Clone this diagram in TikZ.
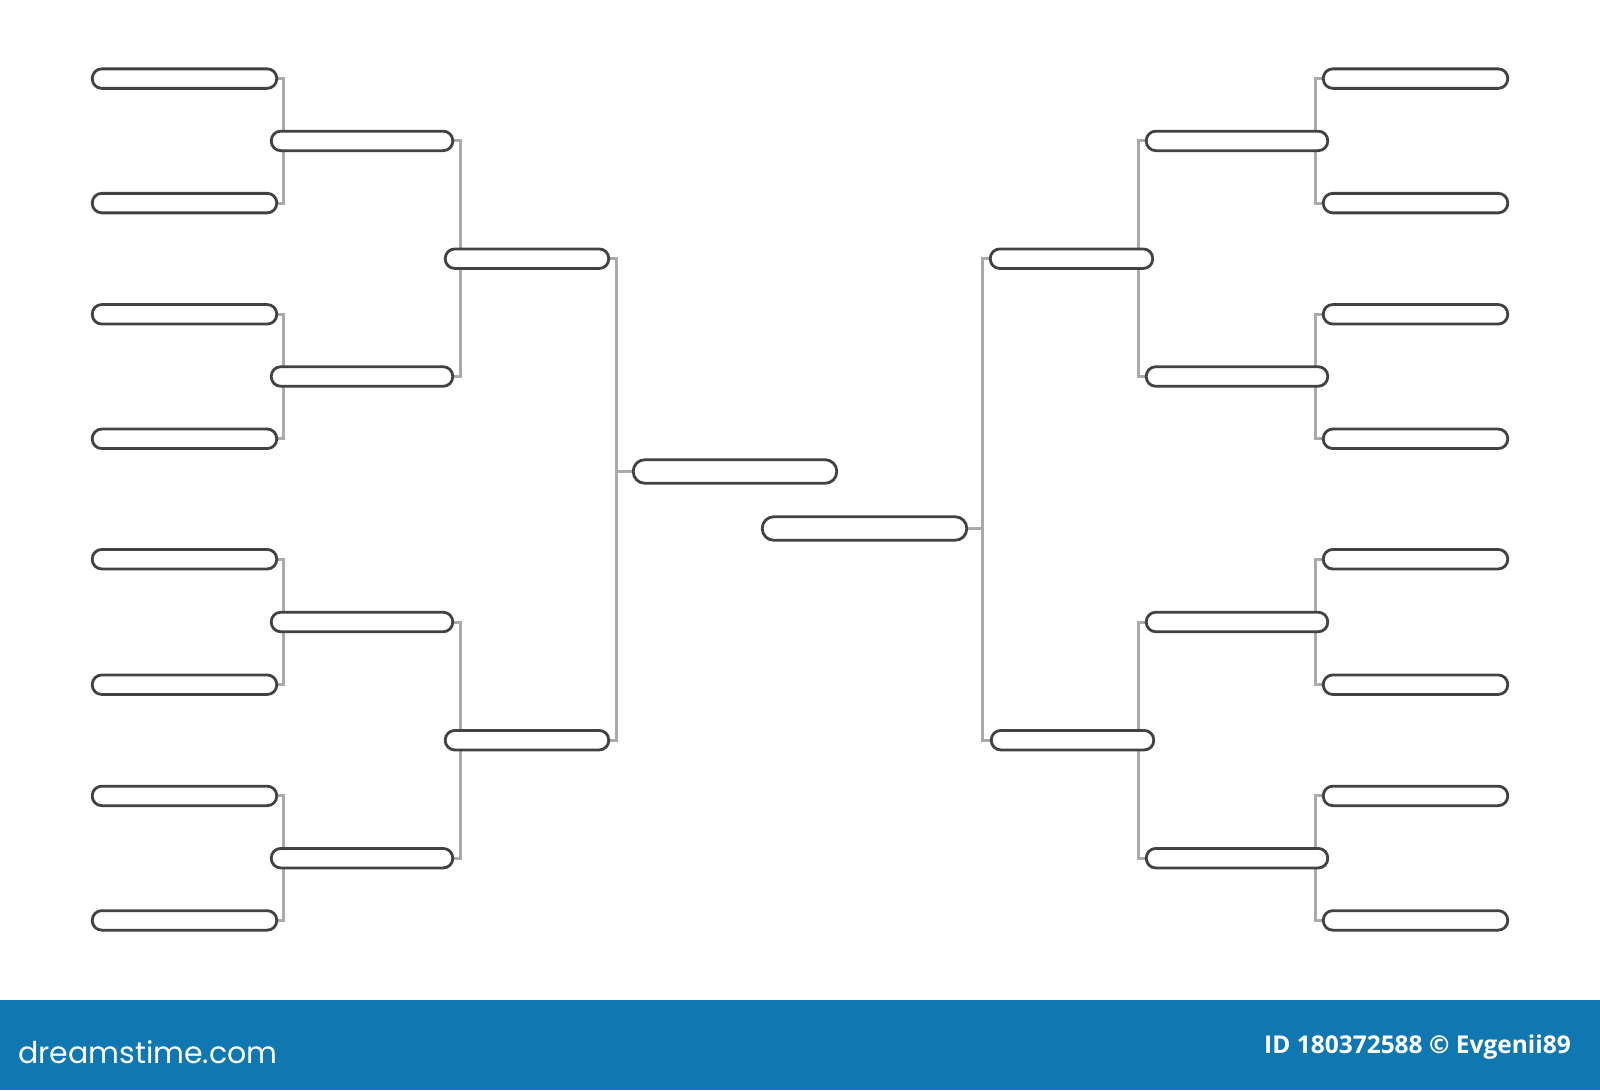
\documentclass[tikz,border=0pt]{standalone}
\usepackage{fontspec}
\usetikzlibrary{backgrounds}
\newfontfamily\logofont{Poppins}
\newfontfamily\idfont{Open Sans}
\definecolor{slotline}{RGB}{66,66,66}
\definecolor{wireline}{RGB}{170,170,170}
\definecolor{footblue}{RGB}{17,119,176}
\tikzset{
  slot/.style={draw=slotline, line width=2.8pt, fill=white, rounded corners=9.5pt,
    minimum height=19.5pt, inner sep=0pt},
  bigslot/.style={slot, rounded corners=11.5pt, minimum height=23.5pt},
  wire/.style={draw=wireline, line width=3pt},
}

\begin{document}
\begin{tikzpicture}[x=1pt,y=-1pt]
\useasboundingbox (0,0) rectangle (1600,1090);

% first round, both sides
\foreach \i/\y in {1/78.6,2/203.1,3/314.3,4/438.8,5/559.2,6/684.7,7/795.9,8/920.4}{
  \node[slot, minimum width=184.5pt] (la\i) at (184.5,\y) {};
  \node[slot, minimum width=184.5pt] (ra\i) at (1415.5,\y) {};
}
% second round
\foreach \i/\y in {1/140.9,2/376.5,3/622,4/858.2}{
  \node[slot, minimum width=181.5pt] (lb\i) at (362,\y) {};
  \node[slot, minimum width=181.5pt] (rb\i) at (1237,\y) {};
}
% third round
\node[slot, minimum width=163.5pt] (lc1) at (527,258.7) {};
\node[slot, minimum width=163.5pt] (lc2) at (527,740.2) {};
\node[slot, minimum width=162.5pt] (rc1) at (1071.5,258.7) {};
\node[slot, minimum width=162.5pt] (rc2) at (1072.5,740.2) {};
% final
\node[bigslot, minimum width=203.5pt] (lfin) at (735,471.5) {};
\node[bigslot, minimum width=204.5pt] (rfin) at (864.5,528.5) {};

\coordinate (ljoin) at ([xshift=6pt]lc1.east);
\coordinate (rjoin) at ([xshift=-6pt]rc1.west);

\begin{scope}[on background layer]
\fill[white] (0,0) rectangle (1600,1000);
\foreach \a/\b in {1/2,3/4,5/6,7/8}{
  \draw[wire] (la\a.east) -- ++(5,0) |- (la\b.east);
  \draw[wire] (ra\a.west) -- ++(-6,0) |- (ra\b.west);
}
\foreach \a/\b in {1/2,3/4}{
  \draw[wire] (lb\a.east) -- ++(6,0) |- (lb\b.east);
  \draw[wire] (rb\a.west) -- ++(-6,0) |- (rb\b.west);
}
\draw[wire] (lc1.east) -- (ljoin) |- (lc2.east);
\draw[wire] (rc1.west) -- (rjoin) |- (rc2.west);
\draw[wire] (ljoin |- lfin.west) -- (lfin.west);
\draw[wire] (rjoin |- rfin.east) -- (rfin.east);
\end{scope}

% footer band
\fill[footblue] (0,1000) rectangle (1600,1090);
\node[anchor=base west, inner sep=0pt, text=white, font=\logofont\fontsize{30}{30}\selectfont] (logo) at (18,1063) {dreamstime.com};
\node[anchor=base east, inner sep=0pt, text=white, font=\idfont\bfseries\fontsize{24.5}{24.5}\selectfont] (credit) at (1571,1053) {ID 180372588 © Evgenii89};

\end{tikzpicture}
\end{document}
